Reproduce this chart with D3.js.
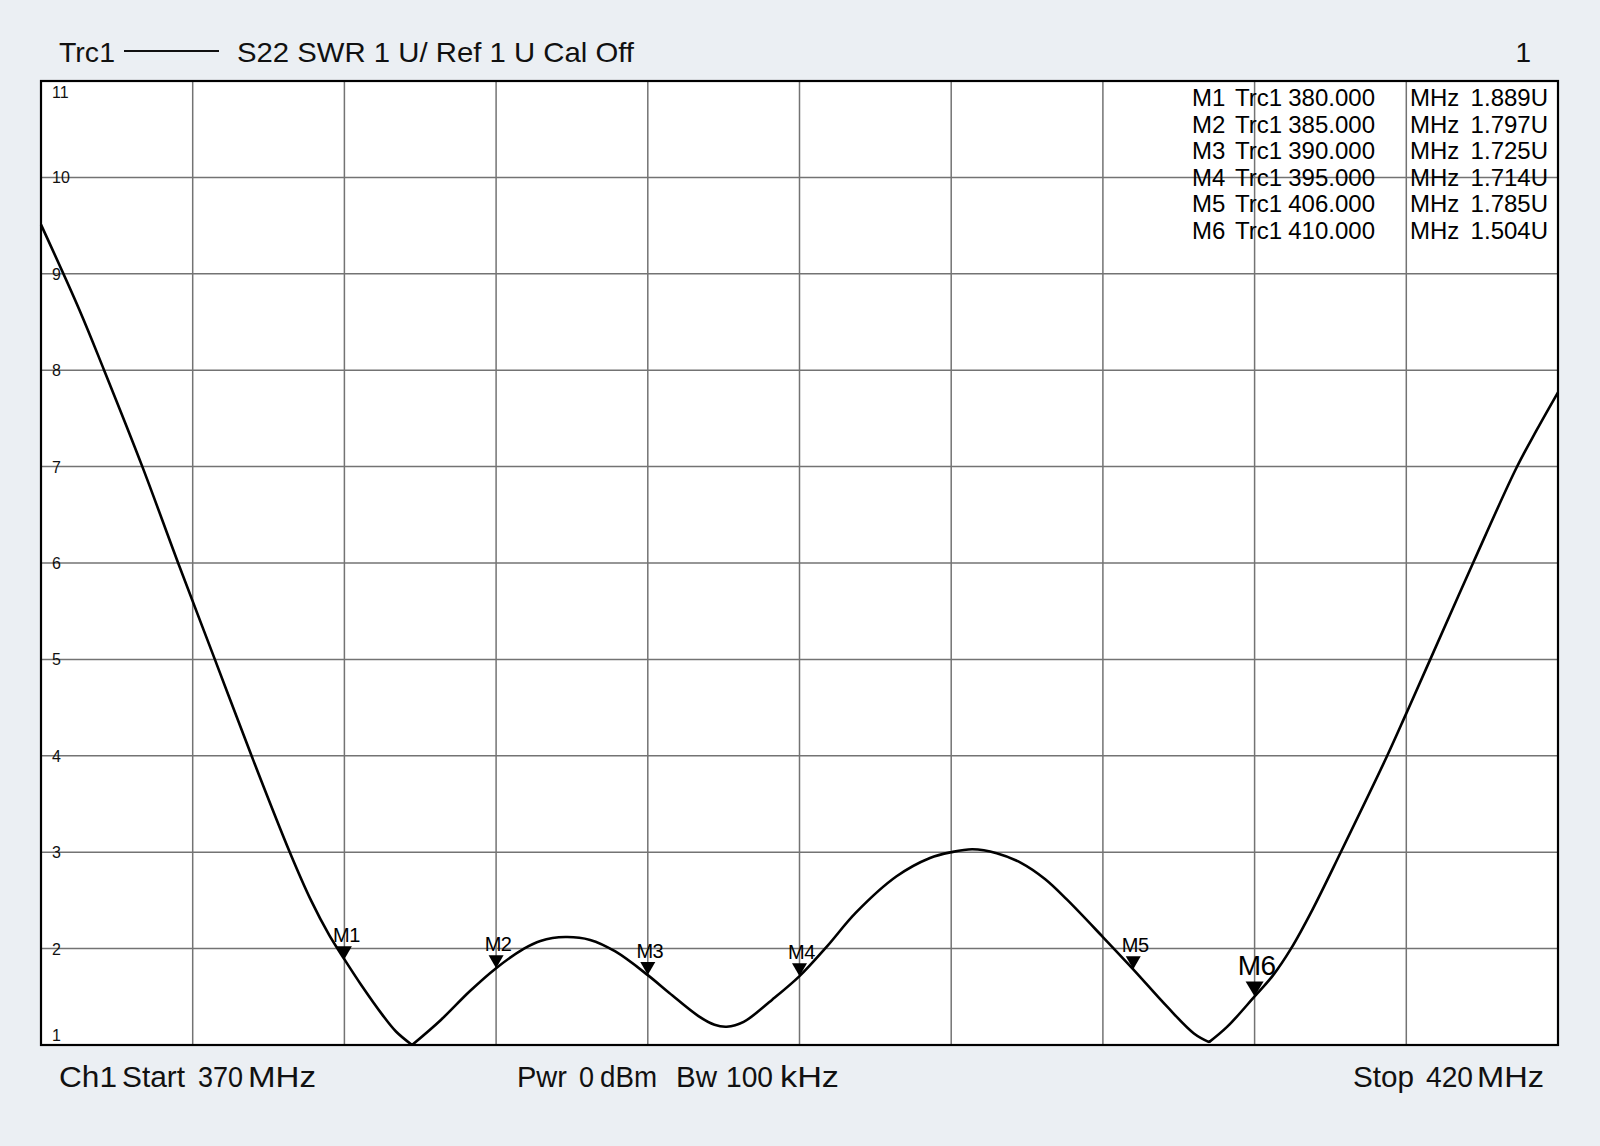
<!DOCTYPE html>
<html><head><meta charset="utf-8">
<script src="https://cdn.jsdelivr.net/npm/d3@7"></script>
<style>
html,body{margin:0;padding:0;background:#ebeff3;}
svg{display:block;font-family:"Liberation Sans",Arial,sans-serif;}
</style></head>
<body>
<svg id="c" width="1600" height="1146"></svg>
<script>
// Data
const freqMHz = [370,371.26,372.08,373.34,374.52,375.73,376.94,378.2,378.9,379.5,380,380.56,381.26,381.7,382.23,
                 383.18,384.14,385,385.92,386.46,387.28,388.1,388.93,390,390.71,391.67,392.2,392.6,393.16,394.1,395,395.9,396.85,398.2,399.3,400,400.7,401.5,402.3,403.1,403.81,405,406,407.11,408.0,408.5,
                 409.1,410,410.6,411.2,411.9,412.84,414.37,415,415.79,417.2,418.62,419.3,420];
const swr =     [9.51,8.63,8.0,7.0,6.0,5.0,4.0,3.0,2.5,2.14,1.889,1.62,1.31,1.14,1.0,
                 1.26,1.56,1.797,2.0,2.08,2.12,2.09,1.97,1.725,1.54,1.30,1.21,1.19,1.24,1.47,1.714,2.02,2.37,2.75,2.94,3.0,3.03,2.99,2.89,2.72,2.51,2.12,1.785,1.40,1.12,1.03,
                 1.19,1.504,1.72,2.0,2.4,3.0,4.0,4.44,5.0,6.0,6.98,7.38,7.77];
const sharpMinFreq = [382.23, 408.5];
const markerNames = ["M1","M2","M3","M4","M5","M6"];
const markerFreq = [380,385,390,395,406,410];
const markerVal = [1.889,1.797,1.725,1.714,1.785,1.504];
const yTicks = [1,2,3,4,5,6,7,8,9,10,11];
const xGrid = [370,375,380,385,390,395,400,405,410,415,420];

const svg = d3.select("#c");
const L=41, R=1558, T=81, B=1045;
const x = d3.scaleLinear().domain([370,420]).range([L,R]);
const y = d3.scaleLinear().domain([1,11]).range([B,T]);

svg.append("rect").attr("x",L).attr("y",T).attr("width",R-L).attr("height",B-T).attr("fill","#fff");

// grid
const g = svg.append("g");
g.selectAll("line.v").data(xGrid.slice(1,-1)).enter().append("line")
  .attr("x1",d=>x(d)).attr("x2",d=>x(d)).attr("y1",T).attr("y2",B)
  .attr("stroke","#737373").attr("stroke-width",1.5);
g.selectAll("line.h").data(yTicks.slice(1,-1)).enter().append("line")
  .attr("y1",d=>y(d)).attr("y2",d=>y(d)).attr("x1",L).attr("x2",R)
  .attr("stroke","#737373").attr("stroke-width",1.5);

// y labels inside
g.selectAll("text.yl").data(yTicks).enter().append("text")
  .attr("x",52)
  .attr("y",d=> d===11 ? y(d)+17 : (d===1 ? y(d)-4 : y(d)+6))
  .attr("font-size",16).attr("fill","#111").text(d=>d);

// curve: split at the sharp minima so the V-shaped dips stay sharp
const pts = freqMHz.map((f,i)=>[f,swr[i]]);
const cuts = sharpMinFreq.map(f=>pts.findIndex(p=>p[0]===f));
const segs = [];
let start = 0;
cuts.forEach(c=>{ segs.push(pts.slice(start,c+1)); start=c; });
segs.push(pts.slice(start));
const line = d3.line().x(d=>x(d[0])).y(d=>y(d[1])).curve(d3.curveCatmullRom.alpha(0.5));
svg.append("path").attr("d",segs.map(s=>line(s)).join("")).attr("fill","none")
  .attr("stroke","#000").attr("stroke-width",2.6).attr("stroke-linejoin","round");

// markers
markerNames.forEach((m,i)=>{
  const px = x(markerFreq[i]), py = y(markerVal[i]);
  const big = m==="M6";
  const w = big?9:7.5, h = big?15:13;
  svg.append("path").attr("d",`M${px},${py} L${px-w},${py-h} L${px+w},${py-h} Z`).attr("fill","#000");
  svg.append("text").attr("x",px+2).attr("y",py-h-(big?6:4))
    .attr("text-anchor","middle").attr("font-size",big?28:20).attr("fill","#000")
    .attr("letter-spacing",-0.5).text(m);
});

// border
svg.append("rect").attr("x",L).attr("y",T).attr("width",R-L).attr("height",B-T)
  .attr("fill","none").attr("stroke","#000").attr("stroke-width",2.2);

// marker table
const tbl = svg.append("g").attr("font-size",24).attr("fill","#000");
markerNames.forEach((m,i)=>{
  const by = 106 + i*26.5;
  tbl.append("text").attr("x",1192).attr("y",by).text(m);
  tbl.append("text").attr("x",1235).attr("y",by).text("Trc1");
  tbl.append("text").attr("x",1375).attr("y",by).attr("text-anchor","end").text(markerFreq[i].toFixed(3));
  tbl.append("text").attr("x",1410).attr("y",by).text("MHz");
  tbl.append("text").attr("x",1548).attr("y",by).attr("text-anchor","end").text(markerVal[i].toFixed(3)+"U");
});

// helper: word placed between x0 and x1
function word(sel, t, x0, x1, yb, fs){
  sel.append("text").attr("x",x0).attr("y",yb).attr("font-size",fs)
    .attr("textLength",x1-x0).attr("lengthAdjust","spacingAndGlyphs").attr("fill","#111").text(t);
}

// header
const hdr = svg.append("g");
word(hdr,"Trc1",59,115,62,28);
hdr.append("line").attr("x1",124).attr("x2",219).attr("y1",51).attr("y2",51).attr("stroke","#111").attr("stroke-width",2);
word(hdr,"S22 SWR 1 U/ Ref 1 U Cal Off",237,634,62,28);
hdr.append("text").attr("x",1531).attr("y",62).attr("text-anchor","end").attr("font-size",28).attr("fill","#111").text("1");

// footer
const ft = svg.append("g");
const fy = 1087, fs = 29;
word(ft,"Ch1",59,117,fy,fs); word(ft,"Start",122,185,fy,fs); word(ft,"370",198,243,fy,fs); word(ft,"MHz",248,316,fy,fs);
word(ft,"Pwr",517,567,fy,fs); word(ft,"0",579,594,fy,fs); word(ft,"dBm",600,657,fy,fs);
word(ft,"Bw",676,717,fy,fs); word(ft,"100",726,773,fy,fs); word(ft,"kHz",780,839,fy,fs);
word(ft,"Stop",1353,1414,fy,fs); word(ft,"420",1426,1473,fy,fs); word(ft,"MHz",1477,1544,fy,fs);
</script>
</body></html>
